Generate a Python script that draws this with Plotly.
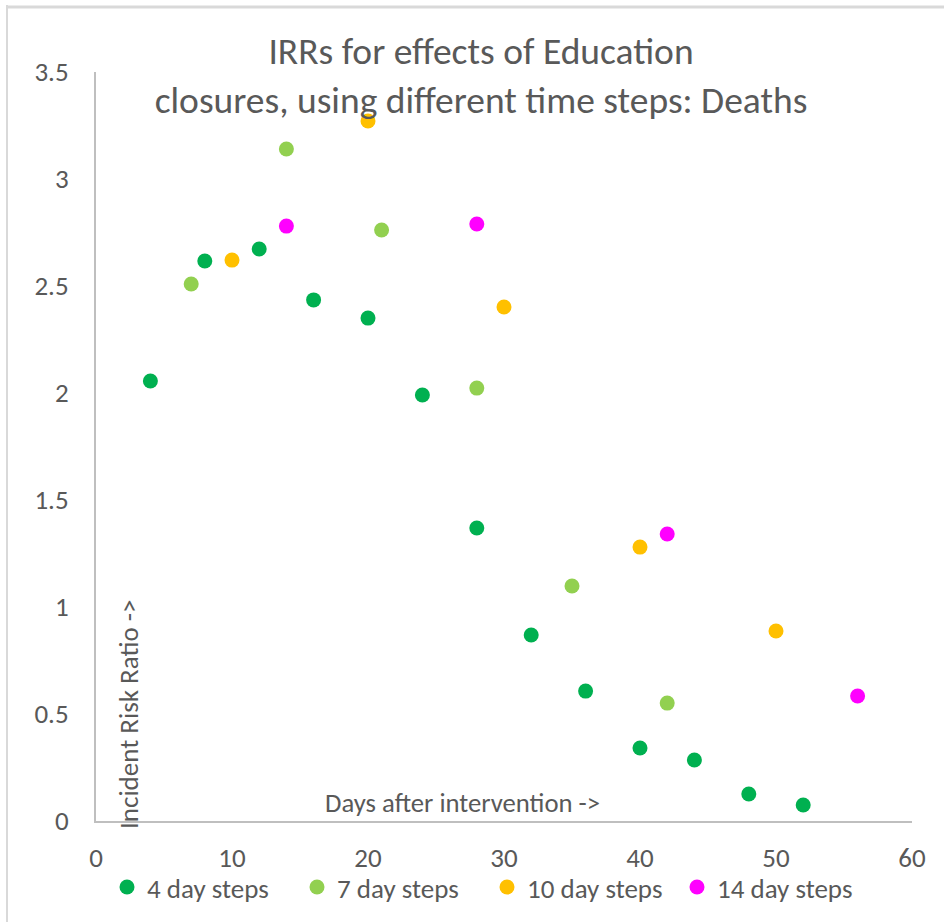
import plotly.graph_objects as go

# Incident risk ratios by days after intervention, per time-step size
days_4 = [4, 8, 12, 16, 20, 24, 28, 32, 36, 40, 44, 48, 52]
irr_4 = [2.056, 2.617, 2.673, 2.435, 2.350, 1.991, 1.369, 0.869, 0.607, 0.341, 0.285, 0.126, 0.075]

days_7 = [7, 14, 21, 28, 35, 42]
irr_7 = [2.509, 3.140, 2.762, 2.023, 1.098, 0.551]

days_10 = [10, 20, 30, 40, 50]
irr_10 = [2.621, 3.271, 2.402, 1.280, 0.888]

days_14 = [14, 28, 42, 56]
irr_14 = [2.780, 2.790, 1.341, 0.584]

series_names = ["4 day steps", "7 day steps", "10 day steps", "14 day steps"]
series_colors = ["#00B050", "#92D050", "#FFC000", "#FF00FF"]

x_ticks = [0, 10, 20, 30, 40, 50, 60]
y_ticks = [0, 0.5, 1, 1.5, 2, 2.5, 3, 3.5]
y_tick_text = ["0", "0.5", "1", "1.5", "2", "2.5", "3", "3.5"]

W, H = 944, 922
FONT = "Carlito, Lato, sans-serif"
GREY = "#595959"


def px(x):
    return x / W


def py(y):
    return 1 - y / H


fig = go.Figure()
for xs, ys, name, color in zip(
    [days_4, days_7, days_10, days_14],
    [irr_4, irr_7, irr_10, irr_14],
    series_names,
    series_colors,
):
    fig.add_trace(
        go.Scatter(
            x=xs,
            y=ys,
            mode="markers",
            name=name,
            marker=dict(color=color, size=15, line=dict(width=0)),
        )
    )

fig.update_layout(
    width=W,
    height=H,
    margin=dict(l=0, r=0, t=0, b=0, pad=0, autoexpand=False),
    paper_bgcolor="white",
    plot_bgcolor="white",
    font=dict(family=FONT, color=GREY, size=27),
    title=dict(
        text="IRRs for effects of Education<br>closures, using different time steps: Deaths",
        x=px(481),
        xanchor="center",
        y=py(64),
        yanchor="top",
        font=dict(family=FONT, size=37.5, color=GREY),
    ),
    xaxis=dict(
        domain=[px(96), px(912)],
        range=[0, 60],
        tickvals=x_ticks,
        showgrid=False,
        zeroline=False,
        showline=True,
        linecolor="#BFBFBF",
        linewidth=2,
        ticks="",
        ticklabelstandoff=12,
        tickfont=dict(family=FONT, size=27, color=GREY),
    ),
    yaxis=dict(
        domain=[py(821), py(72)],
        range=[0, 3.5],
        tickvals=y_ticks,
        ticktext=y_tick_text,
        showgrid=False,
        zeroline=False,
        showline=True,
        linecolor="#BFBFBF",
        linewidth=2,
        ticks="",
        ticklabelstandoff=20,
        tickfont=dict(family=FONT, size=27, color=GREY),
    ),
    legend=dict(
        orientation="h",
        x=px(487),
        xanchor="center",
        y=py(863),
        yanchor="top",
        font=dict(family=FONT, size=27, color=GREY),
        itemwidth=30,
        entrywidth=145,
        entrywidthmode="pixels",
        bgcolor="rgba(0,0,0,0)",
    ),
    annotations=[
        dict(
            text="Days after intervention ->",
            x=px(462),
            y=py(803),
            xref="paper",
            yref="paper",
            xanchor="center",
            yanchor="middle",
            showarrow=False,
            font=dict(family=FONT, size=26.7, color=GREY),
        ),
        dict(
            text="Incident Risk Ratio ->",
            x=px(128),
            y=py(714),
            xref="paper",
            yref="paper",
            xanchor="center",
            yanchor="middle",
            showarrow=False,
            textangle=-90,
            font=dict(family=FONT, size=27, color=GREY),
        ),
    ],
    shapes=[
        dict(type="line", xref="paper", yref="paper",
             x0=px(6), x1=1, y0=py(7), y1=py(7),
             line=dict(color="#D9D9D9", width=3)),
        dict(type="line", xref="paper", yref="paper",
             x0=px(7), x1=px(7), y0=0, y1=py(5),
             line=dict(color="#D9D9D9", width=2)),
    ],
)

fig.write_html("out.html", post_script="document.body.style.margin='0';")
